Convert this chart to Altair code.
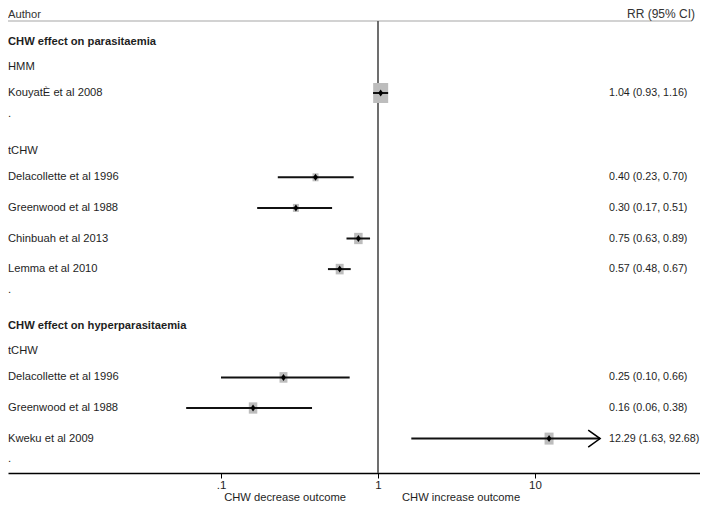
import altair as alt
import pandas as pd

# ---------------- data ----------------
row_label = ["CHW effect on parasitaemia", "HMM", "KouyatÈ et al 2008", ".", "tCHW",
             "Delacollette et al 1996", "Greenwood et al 1988", "Chinbuah et al 2013",
             "Lemma et al 2010", ".",
             "CHW effect on hyperparasitaemia", "tCHW", "Delacollette et al 1996",
             "Greenwood et al 1988", "Kweku et al 2009", "."]
row_kind = ["heading", "group", "study", "blank", "group", "study", "study", "study", "study",
            "blank", "heading", "group", "study", "study", "study", "blank"]
rr      = [None, None, 1.04, None, None, 0.40, 0.30, 0.75, 0.57, None, None, None, 0.25, 0.16, 12.29, None]
ci_low  = [None, None, 0.93, None, None, 0.23, 0.17, 0.63, 0.48, None, None, None, 0.10, 0.06, 1.63, None]
ci_high = [None, None, 1.16, None, None, 0.70, 0.51, 0.89, 0.67, None, None, None, 0.66, 0.38, 92.68, None]
weight  = [None, None, 100, None, None, 16, 16, 32, 28, None, None, None, 28, 32, 36, None]
tick_values = [0.1, 1, 10]
tick_labels = [".1", "1", "10"]
header_left = "Author"
header_right = "RR (95% CI)"
favours_left = "CHW decrease outcome"
favours_right = "CHW increase outcome"

# ---------------- layout ----------------
W, PLOT_H, BOTTOM_PAD = 692, 465, 29
DECADE = 157.0          # px per decade on the log axis
NULL_PX = 370.0         # px position of RR = 1
x_lo = 10 ** (-NULL_PX / DECADE)
x_hi = 10 ** ((W - NULL_PX) / DECADE)
CI_MAX = 26.0           # plotted CI range limit (arrow beyond)
FIRST_Y = 34.0
GAP = {("heading", "group"): 24.5, ("group", "study"): 26.5, ("study", "study"): 30.6,
       ("study", "blank"): 20.8, ("blank", "group"): 37.0, ("blank", "heading"): 36.5}
HEAD_LINE_Y = 13
FONT = "Liberation Sans, Arial, Helvetica, sans-serif"
TXT = "#1e1e1e"

ypos = [FIRST_Y]
for i in range(1, len(row_kind)):
    ypos.append(ypos[-1] + GAP[(row_kind[i - 1], row_kind[i])])

df = pd.DataFrame({"label": row_label, "kind": row_kind, "rr": rr, "lo": ci_low,
                   "hi": ci_high, "weight": weight, "y": ypos})
df["hi_plot"] = df["hi"].where(df["hi"] <= CI_MAX, CI_MAX)
df["rr_text"] = [f"{r:.2f} ({l:.2f}, {h:.2f})" if pd.notna(r) else ""
                 for r, l, h in zip(df["rr"], df["lo"], df["hi"])]
df["clipped"] = df["hi"] > CI_MAX
df["cap"] = CI_MAX

label_map = " : ".join(f"datum.value == {v} ? '{t}'" for v, t in zip(tick_values, tick_labels)) + " : ''"
xscale = alt.Scale(type="log", domain=[x_lo, x_hi], nice=False, clamp=False)
xaxis = alt.Axis(values=tick_values, labelExpr=label_map, title=None, grid=False,
                 domainColor="#000000", domainWidth=1.5, tickColor="#000000", tickSize=5,
                 tickWidth=1, labelFont=FONT, labelFontSize=11.5, labelColor=TXT,
                 labelPadding=1, labelFlush=False)


def X(field):
    return alt.X(field, type="quantitative", scale=xscale, axis=xaxis)


Y = alt.Y("y:Q", scale=alt.Scale(domain=[0, PLOT_H], reverse=True), axis=None)

base = alt.Chart(df)
studies = base.transform_filter("datum.rr != null")

header_rule = alt.Chart(pd.DataFrame({"a": [0]})).mark_rule(color="#d2d2d2", strokeWidth=2).encode(
    x=alt.value(0), x2=alt.value(W - 8), y=alt.value(HEAD_LINE_Y))

null_line = alt.Chart(pd.DataFrame({"v": [1.0]})).mark_rule(color="#555555", strokeWidth=1.7).encode(
    x=X("v"), y=alt.value(HEAD_LINE_Y), y2=alt.value(PLOT_H))

boxes = studies.mark_point(shape="M -0.75 -1 L 0.75 -1 L 0.75 1 L -0.75 1 Z", filled=True,
                           color="#bdbdbd", opacity=1).encode(
    x=X("rr"), y=Y,
    size=alt.Size("weight:Q", scale=alt.Scale(domain=[0, 100], range=[0, 400]), legend=None))

ci = studies.mark_rule(color="#111111", strokeWidth=2).encode(x=X("lo"), x2="hi_plot:Q", y=Y)

dots = studies.mark_point(shape="M -0.7 0 L 0 -1 L 0.7 0 L 0 1 Z", filled=True, color="#000000",
                          size=49, opacity=1).encode(x=X("rr"), y=Y)

arrow = studies.transform_filter("datum.clipped").mark_point(
    shape="M -0.7 -1 L 0.7 0 L -0.7 1", filled=False, stroke="#000000", strokeWidth=1.5,
    size=289, opacity=1, xOffset=-6).encode(x=X("cap"), y=Y)

labels_norm = base.transform_filter("datum.kind != 'heading'").mark_text(
    align="left", baseline="middle", font=FONT, fontSize=11.2, color=TXT).encode(
    x=alt.value(0), y=Y, text="label:N")

labels_bold = base.transform_filter("datum.kind == 'heading'").mark_text(
    align="left", baseline="middle", font=FONT, fontSize=11.2, fontWeight="bold", color=TXT).encode(
    x=alt.value(0), y=Y, text="label:N")

rr_txt = studies.mark_text(align="left", baseline="middle", font=FONT, fontSize=10.7, color=TXT).encode(
    x=alt.value(601), y=Y, text="rr_text:N")

hdr = pd.DataFrame({"t": [header_left, header_right], "side": ["l", "r"]})
hdr_l = alt.Chart(hdr).transform_filter("datum.side == 'l'").mark_text(
    align="left", baseline="top", font=FONT, fontSize=11.2, color="#333333").encode(
    x=alt.value(0), y=alt.value(0.5), text="t:N")
hdr_r = alt.Chart(hdr).transform_filter("datum.side == 'r'").mark_text(
    align="right", baseline="top", font=FONT, fontSize=12, color="#333333").encode(
    x=alt.value(687), y=alt.value(0.5), text="t:N")

fav = pd.DataFrame({"t": [favours_left, favours_right], "side": ["l", "r"]})
fav_l = alt.Chart(fav).transform_filter("datum.side == 'l'").mark_text(
    align="right", baseline="alphabetic", font=FONT, fontSize=11.2, color=TXT).encode(
    x=alt.value(338), y=alt.value(493), text="t:N")
fav_r = alt.Chart(fav).transform_filter("datum.side == 'r'").mark_text(
    align="left", baseline="alphabetic", font=FONT, fontSize=11.2, color=TXT).encode(
    x=alt.value(394), y=alt.value(493), text="t:N")

chart = alt.layer(
    header_rule, null_line, boxes, ci, dots, arrow, labels_norm, labels_bold, rr_txt,
    hdr_l, hdr_r, fav_l, fav_r
).properties(
    width=W, height=PLOT_H,
    autosize=alt.AutoSizeParams(type="none"),
    padding={"left": 0, "top": 0, "right": 0, "bottom": BOTTOM_PAD},
).configure_view(stroke=None)

chart.save("out.html", embed_options={"renderer": "svg", "actions": False})
